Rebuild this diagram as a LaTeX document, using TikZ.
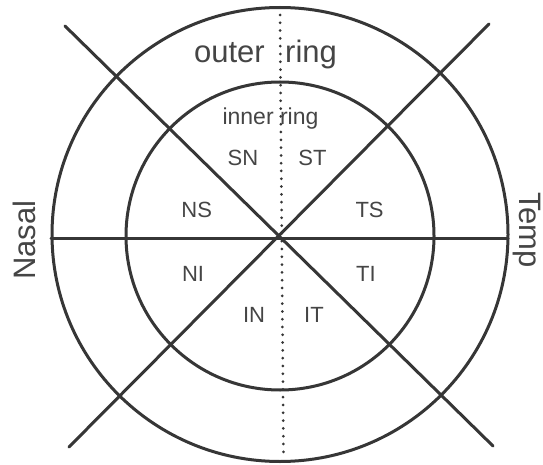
\documentclass[tikz,border=0pt]{standalone}
\usepackage{fontspec}
\setmainfont{Liberation Sans}
\definecolor{ink}{HTML}{363636}
\definecolor{txt}{HTML}{454545}
\begin{document}
\begin{tikzpicture}[x=1pt,y=-1pt,
  ring/.style={draw=ink,line width=3pt},
  axis/.style={draw=ink,line width=3pt,line cap=round},
  dotline/.style={draw=ink,line width=3pt,line cap=round,dash pattern=on 0pt off 7.8pt},
  big/.style={text=txt,inner sep=0pt,font=\fontsize{31}{31}\selectfont},
  mid/.style={text=txt,inner sep=0pt,font=\fontsize{23}{23}\selectfont},
  lab/.style={text=txt,inner sep=0pt,font=\fontsize{22}{22}\selectfont,anchor=base}]
\useasboundingbox (0,0) rectangle (543,465);
\clip (0,0) rectangle (543,465);
\fill[white] (0,0) rectangle (543,465);
\coordinate (c) at (280,236);
\draw[ring] (280,234.5) ellipse [x radius=228, y radius=227];
\draw[ring] (c) circle [radius=154];
\coordinate (hl) at (51,238);
\coordinate (hr) at (508,238);
\draw[axis] (hl) -- (hr);
\coordinate (d1a) at (65,26);
\coordinate (d1b) at (493,446);
\coordinate (d2a) at (489,24);
\coordinate (d2b) at (69,447);
\draw[axis] (d1a) -- (d1b);
\draw[axis] (d2a) -- (d2b);
\coordinate (vt) at (280,15);
\coordinate (vb) at (283.5,455);
\draw[dotline] (vt) -- (vb);
\node[big,anchor=base east] (outer) at (265,63) {outer};
\node[big,anchor=base west] (ringo) at (285,63) {ring};
\node[mid,anchor=base] (inner) at (270.5,125) {inner ring};
\node[lab] (SN) at (243,166) {SN};
\node[lab] (ST) at (312.5,166) {ST};
\node[lab] (NS) at (196.7,217) {NS};
\node[lab] (TS) at (369.6,217) {TS};
\node[lab] (NI) at (193,281) {NI};
\node[lab] (TI) at (366,281) {TI};
\node[lab] (IN) at (254,322) {IN};
\node[lab] (IT) at (314,322) {IT};
\node[big,rotate=90,anchor=base] (nasal) at (35,240) {Nasal};
\node[big,rotate=-90,anchor=base] (temp) at (519,230) {Temp};
\end{tikzpicture}
\end{document}
